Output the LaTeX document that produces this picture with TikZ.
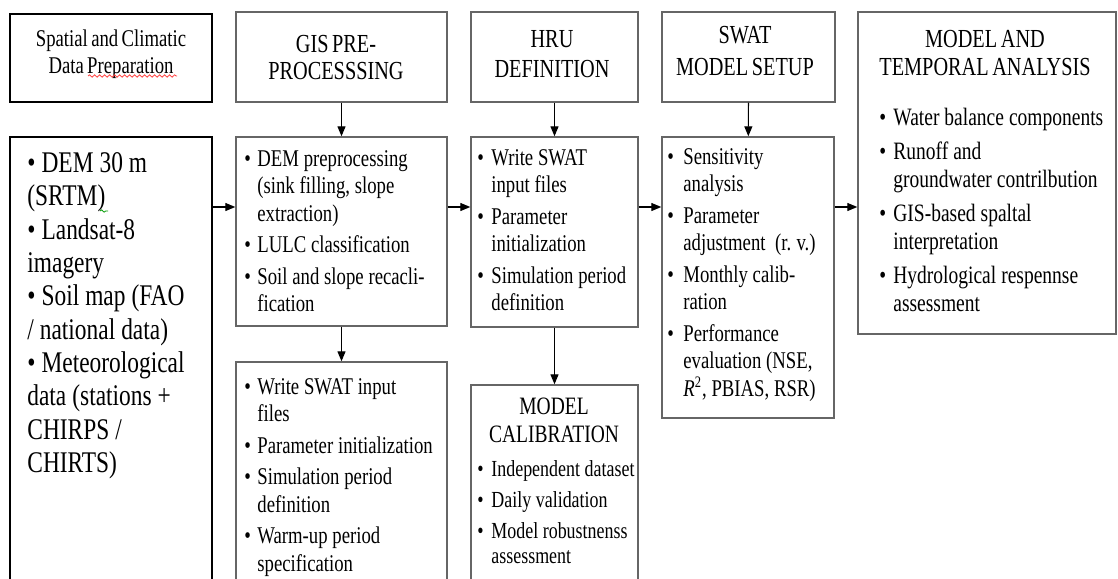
\documentclass[tikz,border=0pt]{standalone}
\usepackage{fontspec}
\setmainfont{Liberation Serif}[FakeStretch=0.78,WordSpace=0.72]
\usetikzlibrary{arrows.meta,fit,decorations.pathmorphing}

\newlength{\bulletw}
\setlength{\bulletw}{6.5pt}
\newcommand{\nl}{\hfil\break}
\newcommand{\raggedlist}{\rightskip=0pt plus 1fil\relax\parfillskip=0pt plus 1fil\relax
  \spaceskip=0.2em\relax\xspaceskip=0.22em\relax}
\newcommand{\bitem}[1]{\hangindent=\bulletw\hangafter=1\noindent\makebox[\bulletw][l]{•}#1\par}

\begin{document}
\begin{tikzpicture}[
  x=0.5pt,y=-0.5pt,
  box/.style    ={draw=black!60,line width=0.7pt,inner sep=0pt},
  databox/.style={draw=black,line width=1.2pt,inner sep=0pt},
  title/.style  ={anchor=north,inner sep=0pt,align=center,font=\fontsize{13}{14}\selectfont},
  list/.style   ={anchor=north west,inner sep=0pt,text width=150pt,
                  font=\fontsize{12}{13.75}\selectfont\setlength{\parskip}{2pt},
                  execute at begin node=\raggedlist},
  arrow/.style  ={-{Triangle[length=5pt,width=4pt]},line width=0.6pt,black}
]
\useasboundingbox (0,0) rectangle (1118,578);
% header row
\node[databox,fit={(10,14) (212,102)}]   (datah)  {};
\node[box,fit={(236,12) (447,102)}]      (gish)   {};
\node[box,fit={(471,12) (638,102)}]      (hruh)   {};
\node[box,fit={(662,12) (835,102)}]      (swath)  {};
\node[box,fit={(858,12) (1116,334)}]     (model)  {};
% body boxes (the lower ones run past the page edge)
\node[databox,fit={(10,137) (212,592)}]  (datab)  {};
\node[box,fit={(236,137) (447,326)}]     (gisb)   {};
\node[box,fit={(236,362) (447,592)}]     (gisl)   {};
\node[box,fit={(471,137) (638,327)}]     (hrub)   {};
\node[box,fit={(471,385) (638,592)}]     (calib)  {};
\node[box,fit={(662,137) (834,418)}]     (swatb)  {};
% titles
\node[title,font=\fontsize{12}{13.5}\selectfont]   (datahtxt) at (111,29) {Spatial and Climatic\\Data Preparation};
\node[title,font=\fontsize{13}{13.5}\selectfont]   (gishtxt)  at (336,35) {GIS PRE-\\PROCESSSING};
\node[title,font=\fontsize{13}{15}\selectfont]     (hruhtxt)  at (552,30) {HRU\\DEFINITION};
\node[title,font=\fontsize{13}{16}\selectfont]     (swathtxt) at (745,26) {SWAT\\MODEL SETUP};
\node[title]                                        (modeltxt) at (985,30) {MODEL AND\\TEMPORAL ANALYSIS};
\node[title,font=\fontsize{12.5}{14}\selectfont]   (calibtxt) at (554,398) {MODEL\\CALIBRATION};
% lists
\node[list,font=\fontsize{15}{16.67}\selectfont] (databtxt) at (27,152)
  {\noindent • DEM 30 m\nl(SRTM)\nl• Landsat-8\nl imagery\nl• Soil map (FAO\nl/ national data)\nl• Meteorological\nl data (stations +\nl CHIRPS /\nl CHIRTS)\par};
\node[list] (gisbtxt) at (244,150)
  {\bitem{DEM preprocessing\nl(sink filling, slope\nl extraction)}\bitem{LULC classification}\bitem{Soil and slope recacli-\nl fication}};
\node[list] (gisltxt) at (244,378)
  {\bitem{Write SWAT input\nl files}\bitem{Parameter initialization}\bitem{Simulation period\nl definition}\bitem{Warm-up period\nl specification}};
\node[list] (hrubtxt) at (477,149)
  {\setlength{\bulletw}{7pt}\bitem{Write SWAT\nl input files}\bitem{Parameter\nl initialization}\bitem{Simulation period\nl definition}};
\node[list] (swatbtxt) at (667,148)
  {\setlength{\bulletw}{8pt}\bitem{Sensitivity\nl analysis}\bitem{Parameter\nl adjustment\ \ (r. v.)}\bitem{Monthly calib-\nl ration}\bitem{Performance\nl evaluation (NSE,\nl\textit{R}\textsuperscript{2}, PBIAS, RSR)}};
\node[list,font=\fontsize{12.5}{14}\selectfont\setlength{\parskip}{3pt}] (modelbtxt) at (879,108)
  {\setlength{\bulletw}{7pt}\bitem{Water balance components}\bitem{Runoff and\nl groundwater contrilbution}\bitem{GIS-based spaltal\nl interpretation}\bitem{Hydrological respennse\nl assessment}};
\node[list,font=\fontsize{11.5}{12.5}\selectfont\setlength{\parskip}{3pt}] (calibbtxt) at (477,460)
  {\setlength{\bulletw}{7pt}\bitem{Independent dataset}\bitem{Daily validation}\bitem{Model robustnenss\nl assessment}};
% spell-check marks
\draw[red!75,line width=0.4pt,decorate,decoration={snake,amplitude=0.6pt,segment length=2.5pt}] (88,76) -- (177,76);
\draw[green!60!black,line width=0.4pt,decorate,decoration={snake,amplitude=0.6pt,segment length=2.5pt}] (100,211) -- (108,211);
% connectors
\coordinate (lvl) at (0,207);
\draw[arrow] (gish) -- (gisb);
\draw[arrow] (hruh) -- (hrub);
\draw[arrow] (swath) -- (swatb);
\draw[arrow] (gisb) -- (gisl);
\draw[arrow] (hrub) -- (calib.north);
\draw[arrow] (datab.east |- lvl) -- (gisb.west |- lvl);
\draw[arrow] (gisb.east |- lvl)  -- (hrub.west |- lvl);
\draw[arrow] (hrub.east |- lvl)  -- (swatb.west |- lvl);
\draw[arrow] (swatb.east |- lvl) -- (model.west |- lvl);
\end{tikzpicture}
\end{document}
